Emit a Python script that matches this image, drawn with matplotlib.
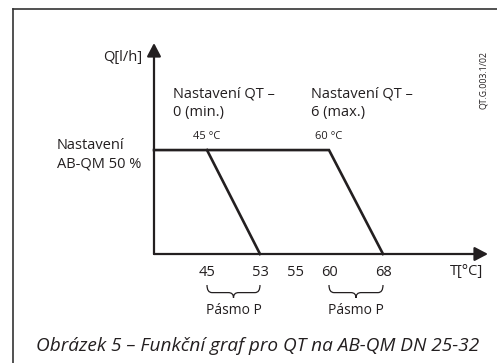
import numpy as np
import matplotlib
matplotlib.use("Agg")
import matplotlib.pyplot as plt
from matplotlib.path import Path
from matplotlib.patches import PathPatch
from matplotlib.lines import Line2D
from matplotlib.transforms import blended_transform_factory

plt.rcParams['font.family'] = ['Open Sans', 'DejaVu Sans']

# ---- data ----
tick_values = [45, 53, 55, 60, 68]
tick_labels = ["45", "53", "55", "60", "68"]
setting_min_T = [45, 53]      # QT 0 (min.): start / end of proportional band
setting_max_T = [60, 68]      # QT 6 (max.)
q_level = 50                  # AB-QM setting 50 %
q_zero = 0
band_label = "Pásmo P"
corner_labels = ["45 °C", "60 °C"]

# ---- figure ----
W, H = 497, 363
fig = plt.figure(figsize=(W / 100, H / 100), dpi=100)

def fx(x):
    return x / W

def fy(y):
    return 1 - y / H

ax_l, ax_r, ax_t, ax_b = 154, 488, 43, 254
ax = fig.add_axes([fx(ax_l), fy(ax_b), fx(ax_r) - fx(ax_l), fy(ax_t) - fy(ax_b)])

# piecewise-linear temperature scale (the schematic is not to scale)
kT = np.array([0.0, 45, 53, 55, 60, 68, 200])
kP = np.array([-45 * 6.6, 0, 53, 88, 122, 176, 176 + 132 * 6.8])

def fwd(t):
    return np.interp(t, kT, kP)

def inv(p):
    return np.interp(p, kP, kT)

ax.set_xscale('function', functions=(fwd, inv))
x_left, x_right = 45 - 53 / 6.6, 68 + 105 / 6.8
ax.set_xlim(x_left, x_right)
ax.set_ylim(0, 101.5)

for s in ax.spines.values():
    s.set_visible(False)
ax.set_yticks([])
ax.set_xticks(tick_values)
ax.set_xticklabels(tick_labels)
ax.tick_params(axis='x', length=0, pad=8, labelsize=10.5, colors='#231f20')
ax.patch.set_alpha(0)

lc = '#231f20'
lw = 1.6
# axes with arrows
ax.annotate('', xy=(0, 1), xytext=(0, 0), xycoords='axes fraction',
            arrowprops=dict(arrowstyle='-|>,head_length=0.8,head_width=0.42',
                            color=lc, lw=lw, shrinkA=0, shrinkB=0, mutation_scale=10),
            annotation_clip=False)
ax.annotate('', xy=(1, 0), xytext=(0, 0), xycoords='axes fraction',
            arrowprops=dict(arrowstyle='-|>,head_length=0.8,head_width=0.42',
                            color=lc, lw=lw, shrinkA=0, shrinkB=0, mutation_scale=10),
            annotation_clip=False)

# characteristic lines
ax.plot([x_left, setting_max_T[0], setting_max_T[1]], [q_level, q_level, q_zero],
        color=lc, lw=1.9, solid_joinstyle='miter', clip_on=False)
ax.plot([setting_min_T[0], setting_min_T[1]], [q_level, q_zero],
        color=lc, lw=1.9, clip_on=False)

# braces under the proportional bands
trans = blended_transform_factory(ax.transData, ax.transAxes)

def brace(t0, t1):
    p0, p1 = fwd(t0), fwd(t1)
    pc = (p0 + p1) / 2
    r = 5.0
    top, mid, bot = -0.147, -0.183, -0.208
    xs = lambda p: float(inv(p))
    verts = [(xs(p0), top), (xs(p0), mid), (xs(p0 + r), mid),
             (xs(pc - r), mid), (xs(pc), mid), (xs(pc), bot),
             (xs(pc), mid), (xs(pc + r), mid),
             (xs(p1 - r), mid), (xs(p1), mid), (xs(p1), top)]
    codes = [Path.MOVETO, Path.CURVE3, Path.CURVE3,
             Path.LINETO, Path.CURVE3, Path.CURVE3,
             Path.CURVE3, Path.CURVE3,
             Path.LINETO, Path.CURVE3, Path.CURVE3]
    ax.add_patch(PathPatch(Path(verts, codes), transform=trans, fill=False,
                           edgecolor=lc, lw=0.9, clip_on=False))
    ax.text(xs(pc), -0.27, band_label, transform=trans, ha='center', va='center',
            fontsize=10, color=lc)

brace(*setting_min_T)
brace(*setting_max_T)

# texts
tc = '#231f20'
fig.text(fx(142), fy(58), "Q[l/h]", ha='right', va='center', fontsize=10.5, color=tc)
fig.text(fx(57), fy(155), "Nastavení\nAB-QM 50 %", ha='left', va='center',
         fontsize=10.5, color=tc, linespacing=1.35)
fig.text(fx(173), fy(103), "Nastavení QT –\n0 (min.)", ha='left', va='center',
         fontsize=10.5, color=tc, linespacing=1.35)
fig.text(fx(311), fy(103), "Nastavení QT –\n6 (max.)", ha='left', va='center',
         fontsize=10.5, color=tc, linespacing=1.35)
ax.text(setting_min_T[0], q_level + 6.5, corner_labels[0], ha='center', va='center',
        fontsize=8, color=tc)
ax.text(setting_max_T[0], q_level + 6.5, corner_labels[1], ha='center', va='center',
        fontsize=8, color=tc)
fig.text(fx(467), fy(271), "T[°C]", ha='center', va='center', fontsize=10.5, color=tc)
fig.text(fx(484), fy(80), "QT.G.003.1/02", ha='center', va='center', fontsize=6.3,
         rotation=90, color=tc)
fig.text(fx(258), fy(346), "Obrázek 5 – Funkční graf pro QT na AB-QM DN 25-32",
         ha='center', va='center', fontsize=13.7, style='italic', color=tc)

# outer frame
fig.add_artist(Line2D([fx(13), fx(13)], [fy(9), fy(363)], color='#333333', lw=1.2))
fig.add_artist(Line2D([fx(13), fx(497)], [fy(9), fy(9)], color='#333333', lw=1.2))

fig.savefig("out.png", dpi=100, facecolor='white')
